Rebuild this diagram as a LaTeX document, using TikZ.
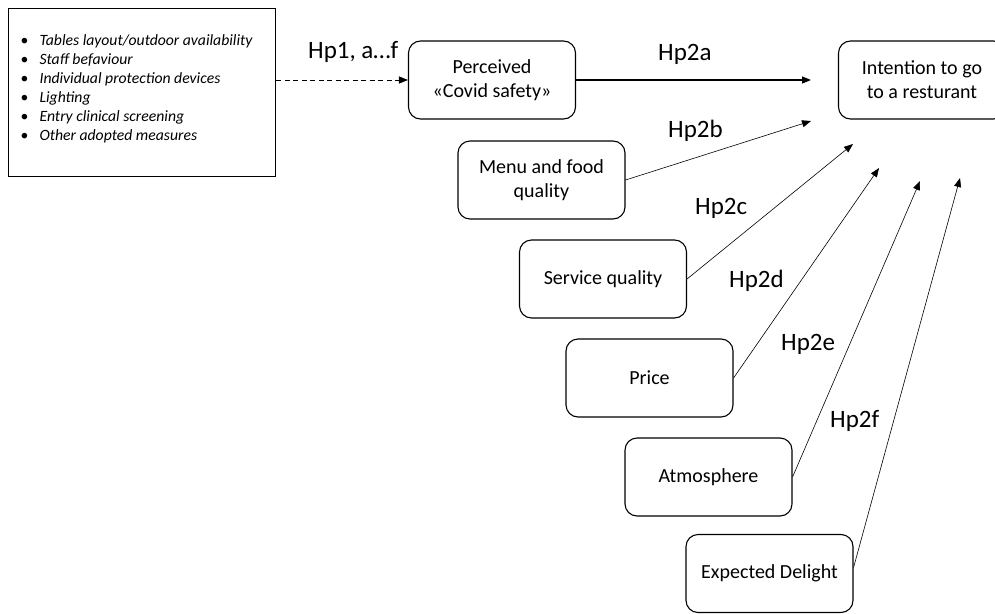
\documentclass[tikz,border=0pt]{standalone}
\usepackage{fontspec}
\setmainfont{Carlito}
\usetikzlibrary{arrows.meta}
\tikzset{
  factor/.style={draw, line width=1.1pt, rounded corners=12pt, minimum width=167pt, minimum height=78pt, align=center, inner sep=2pt, font=\fontsize{20}{24}\selectfont},
  hyp/.style={anchor=base west, inner sep=0pt, font=\fontsize{25}{29}\selectfont},
  thinarrow/.style={line width=0.6pt, -{Triangle[length=9pt,width=7pt]}},
  thickarrow/.style={line width=1.2pt, -{Triangle[length=9pt,width=7pt]}}
}
\newcommand{\bitem}[1]{\makebox[20pt][l]{\hspace{1pt}•}\textit{#1}}
\begin{document}
\begin{tikzpicture}[x=1pt,y=-1pt]
\useasboundingbox (0,0) rectangle (995,613);
\clip (0,0) rectangle (995,613);
% measures box
\node (measures) [draw, line width=1.1pt, rectangle, minimum width=267pt, minimum height=168pt, inner xsep=11pt, anchor=north west, font=\fontsize{15.7}{19}\selectfont] at (8,8)
 {\raisebox{3.5pt}[\height][\depth]{\begin{minipage}{245pt}\raggedright
 \bitem{Tables layout/outdoor availability}\\\bitem{Staff befaviour}\\\bitem{Individual protection devices}\\\bitem{Lighting}\\\bitem{Entry clinical screening}\\\bitem{Other adopted measures}\end{minipage}}};
% factor boxes
\node (perc) [factor] at (492,80) {Perceived\\«Covid safety»};
\node (intent) [factor] at (922,80) {Intention to go\\to a resturant};
\node (menu) [factor] at (541.5,180) {Menu and food\\quality};
\node (serv) [factor] at (603,279) {Service quality};
\node (price) [factor] at (649.5,378) {Price};
\node (atmo) [factor] at (708.5,477) {Atmosphere};
\node (exp) [factor] at (769.5,573.5) {Expected Delight};
% arrow end points
\coordinate (t2a) at (811,80);
\coordinate (t2b) at (811,121);
\coordinate (t2c) at (853,144);
\coordinate (t2d) at (879,168);
\coordinate (t2e) at (920,181);
\coordinate (t2f) at (960,178);
% connectors
\draw[line width=1pt, dash pattern=on 5pt off 3.5pt, -{Triangle[length=9pt,width=7pt]}] (perc.west -| measures.east) -- (perc.west);
\draw[thickarrow] (perc.east) -- (t2a);
\draw[thinarrow] (menu.east) -- (t2b);
\draw[thinarrow] (serv.east) -- (t2c);
\draw[thinarrow] (price.east) -- (t2d);
\draw[thinarrow] (atmo.east) -- (t2e);
\draw[thinarrow] ([yshift=6pt]exp.east) -- (t2f);
% labels
\node (l1) [hyp] at (308,58) {Hp1, a…f};
\node (l2a) [hyp] at (658,60) {Hp2a};
\node (l2b) [hyp] at (668,137) {Hp2b};
\node (l2c) [hyp] at (695,214) {Hp2c};
\node (l2d) [hyp] at (729,287) {Hp2d};
\node (l2e) [hyp] at (781,350) {Hp2e};
\node (l2f) [hyp] at (830,427) {Hp2f};
\end{tikzpicture}
\end{document}
